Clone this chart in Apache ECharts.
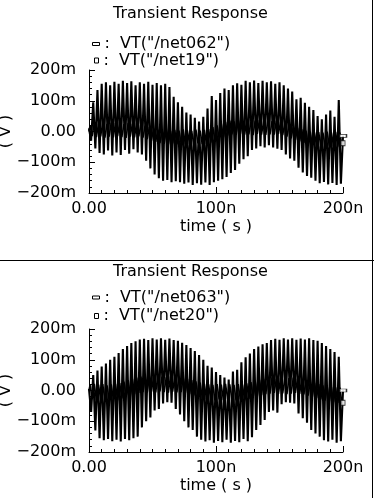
<!DOCTYPE html>
<html>
<head>
<meta charset="utf-8">
<script src="https://cdn.jsdelivr.net/npm/echarts@6/dist/echarts.min.js"></script>
<style>
html,body{margin:0;padding:0;background:#fff;}
#c{width:374px;height:498px;}
</style>
</head>
<body>
<div id="c"></div>
<script>
// ---- data (time in ns, voltage in mV) ----
const xTicks = [0, 100, 200];
const yTicks = [-200, -100, 0, 100, 200];
const carrierPeriodNs = 200 / 60; // one fast oscillation, read from spike spacing

// Upper panel: VT("/net062") peak values (one per cycle) and trough values
const net062Peaks = [10,95,135,155,160,150,162,155,165,158,163,150,160,155,162,152,158,150,155,145,
  113,95,80,62,55,45,32,48,75,115,102,125,140,135,150,157,152,165,160,166,
  158,165,160,163,155,160,150,140,130,105,110,93,80,70,50,40,55,68,48,102,-14];
const net062Troughs = [-30,-55,-70,-75,-62,-78,-68,-76,-60,-72,-58,-68,-75,-95,-120,-140,-152,-160,-158,-165,
  -162,-165,-170,-166,-174,-168,-173,-166,-174,-165,-160,-155,-148,-135,-125,-105,-90,-80,-60,-55,
  -48,-52,-45,-52,-56,-60,-75,-88,-95,-118,-133,-145,-150,-160,-168,-164,-172,-167,-174,-170];
// Upper panel: VT("/net19") high and low samples
const net19High = [20,28,26,30,25,29,27,31,24,28,26,29,24,19,15,10,6,4,6,2,
  5,3,7,4,2,6,3,5,8,14,20,26,31,35,33,37,34,36,32,35,
  38,33,36,34,35,32,27,22,17,12,7,3,0,-3,-2,-4,0,-3,-1,-4];
const net19Low = [-15,-18,-16,-20,-17,-19,-15,-18,-21,-17,-19,-16,-20,-25,-30,-34,-38,-40,-42,-39,
  -41,-38,-42,-40,-43,-39,-41,-40,-36,-30,-24,-18,-13,-9,-11,-8,-10,-9,-12,-8,
  -10,-11,-9,-10,-8,-12,-17,-22,-27,-32,-37,-41,-44,-47,-45,-48,-46,-47,-49,-46];
const net19End = -38;

// Lower panel: VT("/net063") peaks and troughs
const net063Peaks = [5,50,65,78,88,100,110,122,135,145,154,160,166,168,164,170,166,170,165,169,
  164,162,155,148,138,128,115,100,80,75,60,50,42,36,62,67,92,108,120,135,
  143,150,154,164,168,165,170,166,170,165,169,166,170,164,162,154,145,135,125,110,0];
const net063Troughs = [-70,-130,-155,-162,-158,-165,-160,-166,-158,-162,-155,-150,-120,-100,-88,-65,-60,-42,-38,-40,
  -60,-78,-100,-120,-128,-150,-160,-166,-162,-170,-164,-168,-160,-170,-164,-168,-158,-165,-152,-128,
  -112,-96,-70,-65,-72,-45,-38,-40,-42,-75,-90,-105,-128,-140,-150,-162,-166,-160,-170,-165];
// Lower panel: VT("/net20") high and low samples
const net20High = [18,22,19,21,17,20,22,24,29,34,38,42,45,43,46,44,47,45,43,46,
  44,45,42,38,34,30,26,22,20,18,21,19,22,20,18,21,19,23,27,31,
  35,38,40,42,39,41,38,40,42,39,37,33,29,25,21,17,14,11,10,9];
const net20Low = [-28,-31,-29,-32,-30,-28,-31,-26,-21,-16,-12,-8,-5,-7,-4,-6,-3,-5,-7,-4,
  -6,-5,-8,-12,-16,-20,-24,-28,-30,-32,-29,-31,-28,-30,-32,-29,-31,-27,-23,-19,
  -15,-12,-10,-8,-11,-9,-12,-10,-8,-11,-13,-17,-21,-25,-29,-33,-36,-39,-40,-41];
const net20End = -40;

// ---- build series tables ----
function carrierTable(peaks, troughs) {
  const out = [];
  for (let k = 0; k < troughs.length; k++) {
    out.push([k * carrierPeriodNs, peaks[k]]);
    out.push([(k + 0.5) * carrierPeriodNs, troughs[k]]);
  }
  out.push([troughs.length * carrierPeriodNs, peaks[troughs.length]]);
  return out;
}
function smallTable(high, low, endVal) {
  const out = [[0, 0]];
  for (let k = 0; k < high.length; k++) {
    out.push([(k + 0.25) * carrierPeriodNs, high[k]]);
    out.push([(k + 0.75) * carrierPeriodNs, low[k]]);
  }
  out.push([200, endVal]);
  return out;
}

const FONT = 'DejaVu Sans';
const BLACK = '#000';
const txt = {fontFamily: FONT, fontSize: 16, color: BLACK, fontWeight: 'normal'};

function fmtV(v) {
  if (v === 0) return '0.00';
  return (v < 0 ? '\u2212' : '') + Math.abs(v) + 'm';
}
function fmtT(v) {
  if (v === 0) return '0.00';
  return v + 'n';
}

const panels = [
  {top: 70, titleTop: 6, legTop: [36, 52.5], names: ['VT("/net062")', 'VT("/net19")'],
   big: carrierTable(net062Peaks, net062Troughs), small: smallTable(net19High, net19Low, net19End)},
  {top: 329, titleTop: 264, legTop: [289.5, 308], names: ['VT("/net063")', 'VT("/net20")'],
   big: carrierTable(net063Peaks, net063Troughs), small: smallTable(net20High, net20Low, net20End)}
];

const option = {
  animation: false,
  backgroundColor: '#fff',
  title: panels.map(p => ({
    text: 'Transient Response', left: 113, top: p.titleTop,
    textStyle: Object.assign({}, txt), padding: 0
  })),
  grid: panels.map(p => ({left: 89, top: p.top, width: 254, height: 123, containLabel: false, outerBoundsMode: 'none'})),
  legend: [],
  xAxis: panels.map((p, i) => ({
    gridIndex: i, type: 'value', min: xTicks[0], max: xTicks[xTicks.length - 1], interval: 100,
    axisLine: {show: true, onZero: false, lineStyle: {color: BLACK, width: 1}},
    axisTick: {show: true, inside: true, length: 6, lineStyle: {color: BLACK}},
    minorTick: {show: true, splitNumber: 10, length: 3, lineStyle: {color: BLACK}},
    splitLine: {show: false},
    axisLabel: Object.assign({formatter: fmtT, margin: 8}, txt),
    name: 'time ( s )', nameLocation: 'middle', nameGap: 26, nameMoveOverlap: false,
    nameTextStyle: Object.assign({}, txt)
  })),
  yAxis: panels.map((p, i) => ({
    gridIndex: i, type: 'value', min: yTicks[0], max: yTicks[yTicks.length - 1], interval: 100,
    axisLine: {show: true, onZero: false, lineStyle: {color: BLACK, width: 1}},
    axisTick: {show: true, inside: true, length: 6, lineStyle: {color: BLACK}},
    minorTick: {show: true, splitNumber: 5, length: 3, lineStyle: {color: BLACK}},
    splitLine: {show: false},
    axisLabel: Object.assign({formatter: fmtV, margin: 13, padding: [0, 0, 8, 0]}, txt),
    name: '( V )', nameLocation: 'middle', nameGap: 75, nameMoveOverlap: false,
    nameTextStyle: Object.assign({}, txt)
  })),
  series: [],
  graphic: [
    {type: 'line', shape: {x1: 0, y1: 260.5, x2: 374, y2: 260.5}, style: {stroke: BLACK, lineWidth: 1}},
    {type: 'line', shape: {x1: 372.5, y1: 0, x2: 372.5, y2: 498}, style: {stroke: BLACK, lineWidth: 1}}
  ]
};

panels.forEach((p, i) => {
  option.series.push({
    name: p.names[0], type: 'line', xAxisIndex: i, yAxisIndex: i, data: p.big,
    showSymbol: false, symbol: 'none', lineStyle: {color: BLACK, width: 2.1}, itemStyle: {color: BLACK},
    sampling: null, z: 2
  });
  option.series.push({
    name: p.names[1], type: 'line', xAxisIndex: i, yAxisIndex: i, data: p.small,
    showSymbol: false, symbol: 'none', lineStyle: {color: BLACK, width: 1.6}, itemStyle: {color: BLACK},
    sampling: null, z: 3
  });
  // end-of-curve markers
  option.series.push({
    type: 'scatter', xAxisIndex: i, yAxisIndex: i, data: [p.big[p.big.length - 1]],
    symbol: 'rect', symbolSize: [7, 3], itemStyle: {color: '#fff', borderColor: BLACK, borderWidth: 1}, z: 5
  });
  option.series.push({
    type: 'scatter', xAxisIndex: i, yAxisIndex: i, data: [p.small[p.small.length - 1]],
    symbol: 'rect', symbolSize: [4, 5], itemStyle: {color: '#fff', borderColor: BLACK, borderWidth: 1}, z: 5
  });
  option.legend.push({
    data: [p.names[0]], left: 92, top: p.legTop[0], icon: 'rect', itemWidth: 7, itemHeight: 3,
    itemStyle: {color: '#fff', borderColor: BLACK, borderWidth: 1},
    formatter: n => ':  ' + n, textStyle: Object.assign({}, txt), padding: 0, selectedMode: false
  });
  option.legend.push({
    data: [p.names[1]], left: 94, top: p.legTop[1], icon: 'rect', itemWidth: 4, itemHeight: 5,
    itemStyle: {color: '#fff', borderColor: BLACK, borderWidth: 1},
    formatter: n => ':  ' + n, textStyle: Object.assign({}, txt), padding: 0, selectedMode: false
  });
});

const chart = echarts.init(document.getElementById('c'), null, {renderer: 'canvas'});
chart.setOption(option);
</script>
</body>
</html>
